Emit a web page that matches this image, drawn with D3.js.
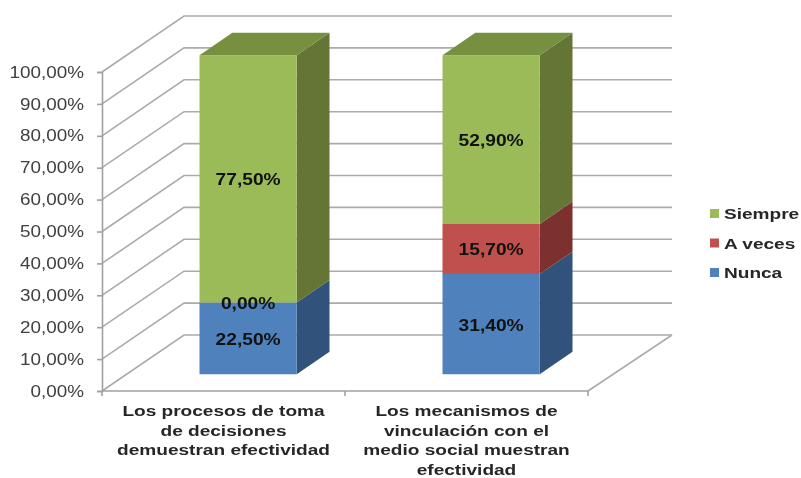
<!DOCTYPE html>
<html>
<head>
<meta charset="utf-8">
<script src="https://cdn.jsdelivr.net/npm/d3@7"></script>
<style>
body { margin: 0; background: #fff; }
svg { display: block; filter: blur(0.7px); }
text { font-family: "Liberation Sans", Arial, sans-serif; }
</style>
</head>
<body>
<svg width="801" height="478"></svg>
<script>
// data
const categories = ["cat1", "cat2"];
const categoryLabels = [
    ["Los procesos de toma", "de decisiones", "demuestran efectividad"],
    ["Los mecanismos de", "vinculación con el", "medio social muestran", "efectividad"]
];
const seriesNames = ["Nunca", "A veces", "Siempre"];
const nunca = [22.5, 31.4];
const aVeces = [0, 15.7];
const siempre = [77.5, 52.9];
const yTicks = [0, 10, 20, 30, 40, 50, 60, 70, 80, 90, 100];

const colors = { "Nunca": "#4F81BD", "A veces": "#C0504D", "Siempre": "#9BBB59" };
const sideColors = { "Nunca": "#31527A", "A veces": "#7D312F", "Siempre": "#647535" };
const topColors = { "Nunca": "#3D6594", "A veces": "#963E3C", "Siempre": "#769040" };

const rows = categories.map(function(c, i) {
    return { cat: c, "Nunca": nunca[i], "A veces": aVeces[i], "Siempre": siempre[i] };
});
const stacked = d3.stack().keys(seriesNames)(rows);

const svg = d3.select("svg");

const x = d3.scaleBand().domain(categories).range([102, 588]);
const y = d3.scaleLinear().domain([0, 100]).range([391, 72]);
// depth of the 3d box, 0 = front edge of floor, 1 = back wall
const depthX = d3.scaleLinear().domain([0, 1]).range([0, 82]);
const depthY = d3.scaleLinear().domain([0, 1]).range([0, -56]);

const grey = "#ababab";
const barWidth = x.bandwidth() * 0.4;
const barFront = 0.3, barBack = 0.7;
const backRight = 590; // back wall runs a little past the floor

function pt(px, v, d) {
    return [px + depthX(d), y(v) + depthY(d)];
}
const line = d3.line();

// walls and floor
const walls = svg.append("g")
    .attr("fill", "none")
    .attr("stroke", grey)
    .attr("stroke-width", 1.6);

yTicks.forEach(function(t) {
    walls.append("path").attr("d", line([pt(102, t, 0), pt(102, t, 1), pt(backRight, t, 1)]));
});
walls.append("path").attr("d", line([pt(backRight, 0, 1), pt(588, 0, 0)]));

// axes
const fmt = function(d) { return d.toFixed(2).replace(".", ",") + "%"; };

const yAxis = svg.append("g")
    .attr("transform", "translate(102,0)")
    .call(d3.axisLeft(y).tickValues(yTicks).tickFormat(fmt).tickSize(5).tickPadding(3));
yAxis.selectAll("path, line").attr("stroke", "#a0a0a0").attr("stroke-width", 1.6);
yAxis.selectAll("text")
    .attr("font-size", 16)
    .attr("fill", "#404040")
    .attr("text-anchor", "end")
    .attr("transform", "translate(-18,0) scale(1.18,1)")
    .attr("x", 0);

const xEdges = [102, 102 + x.step(), 588];
svg.append("g").selectAll("line")
    .data(xEdges).enter().append("line")
    .attr("x1", function(d) { return d; })
    .attr("x2", function(d) { return d; })
    .attr("y1", y(0))
    .attr("y2", y(0) + 5)
    .attr("stroke", "#a0a0a0")
    .attr("stroke-width", 1.6);
svg.append("line")
    .attr("x1", 102).attr("x2", 588)
    .attr("y1", y(0)).attr("y2", y(0))
    .attr("stroke", "#a0a0a0").attr("stroke-width", 1.6);

// bars, bottom to top
const bars = svg.append("g");
stacked.forEach(function(layer) {
    layer.forEach(function(d) {
        const c = d.data.cat;
        const x0 = x(c) + (x.bandwidth() - barWidth) / 2;
        const x1 = x0 + barWidth;
        if (d[1] > d[0]) {
            bars.append("path")
                .attr("fill", sideColors[layer.key])
                .attr("d", line([pt(x1, d[0], barFront), pt(x1, d[0], barBack), pt(x1, d[1], barBack), pt(x1, d[1], barFront)]) + "Z");
            bars.append("path")
                .attr("fill", colors[layer.key])
                .attr("d", line([pt(x0, d[0], barFront), pt(x1, d[0], barFront), pt(x1, d[1], barFront), pt(x0, d[1], barFront)]) + "Z");
        }
        if (layer.key == "Siempre") {
            bars.append("path")
                .attr("fill", topColors[layer.key])
                .attr("d", line([pt(x0, d[1], barFront), pt(x1, d[1], barFront), pt(x1, d[1], barBack), pt(x0, d[1], barBack)]) + "Z");
        }
    });
});

// value labels
stacked.forEach(function(layer) {
    layer.forEach(function(d) {
        const c = d.data.cat;
        const p = pt(x(c) + x.bandwidth() / 2, (d[0] + d[1]) / 2, barFront);
        svg.append("text")
            .attr("transform", "translate(" + p[0] + "," + (p[1] + 6.5) + ") scale(1.2,1)")
            .attr("text-anchor", "middle")
            .attr("font-size", 16)
            .attr("font-weight", "bold")
            .attr("fill", "#111")
            .text(fmt(d[1] - d[0]));
    });
});

// category labels
categoryLabels.forEach(function(lines, i) {
    const cx = x(categories[i]) + x.bandwidth() / 2;
    lines.forEach(function(t, j) {
        svg.append("text")
            .attr("transform", "translate(" + cx + "," + (416 + j * 19.5) + ") scale(1.23,1)")
            .attr("text-anchor", "middle")
            .attr("font-size", 15.5)
            .attr("font-weight", "bold")
            .attr("fill", "#262626")
            .text(t);
    });
});

// legend
const legendY = d3.scalePoint().domain(["Siempre", "A veces", "Nunca"]).range([213.5, 272.5]);
legendY.domain().forEach(function(k) {
    svg.append("rect")
        .attr("x", 710)
        .attr("y", legendY(k) - 4.5)
        .attr("width", 9)
        .attr("height", 9)
        .attr("fill", colors[k]);
    svg.append("text")
        .attr("transform", "translate(724," + (legendY(k) + 5.5) + ") scale(1.23,1)")
        .attr("font-size", 15.5)
        .attr("font-weight", "bold")
        .attr("fill", "#262626")
        .text(k);
});
</script>
</body>
</html>
